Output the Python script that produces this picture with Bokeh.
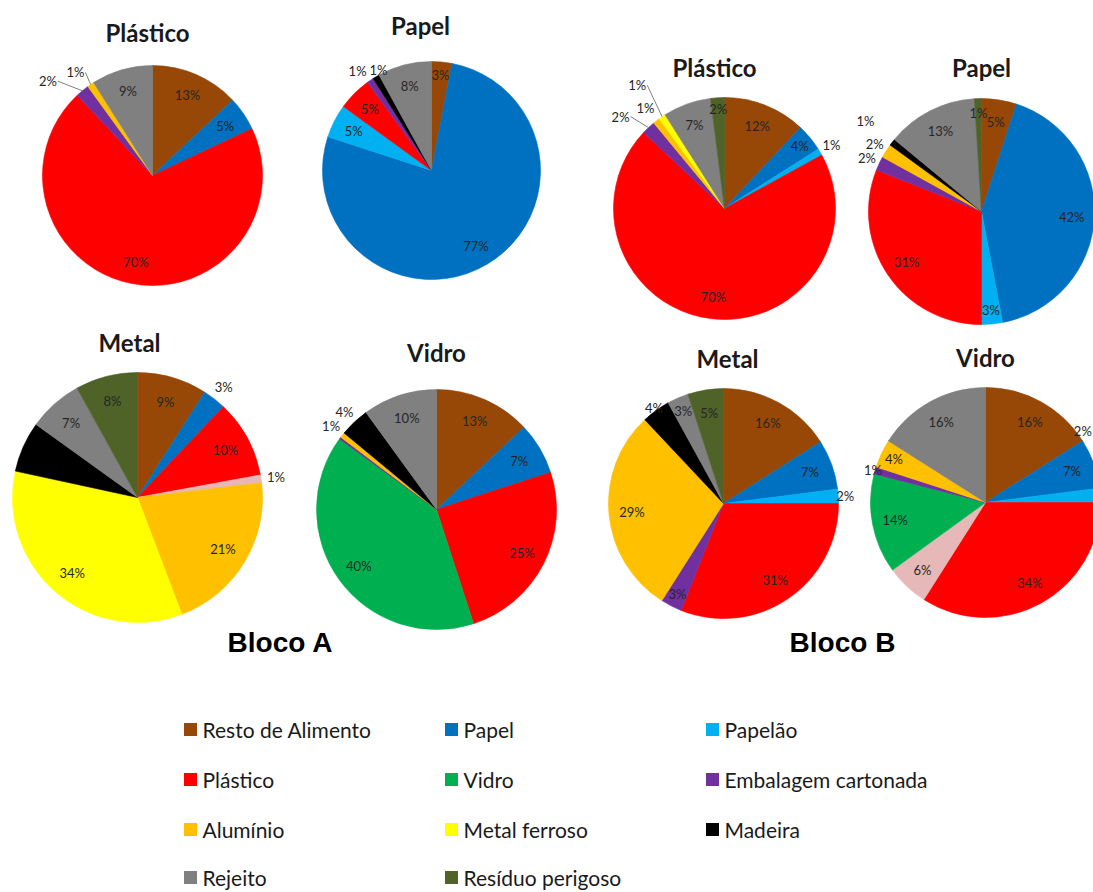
import math
from bokeh.plotting import figure
from bokeh.models import ColumnDataSource, Range1d
from bokeh.core.properties import value
from bokeh.embed import file_html
from bokeh.resources import INLINE

# ---------------- data ----------------
CATEGORIES = ["Resto de Alimento", "Papel", "Papelão", "Plástico", "Outros", "Vidro",
              "Embalagem cartonada", "Alumínio", "Metal ferroso", "Madeira", "Rejeito",
              "Resíduo perigoso"]
COLORS = ["#974806", "#0070C0", "#00B0F0", "#FF0000", "#E6B9B8", "#00B050",
          "#7030A0", "#FFC000", "#FFFF00", "#000000", "#808080", "#4F6228"]
LEGEND_ITEMS = ["Resto de Alimento", "Papel", "Papelão",
                "Plástico", "Vidro", "Embalagem cartonada",
                "Alumínio", "Metal ferroso", "Madeira",
                "Rejeito", "Resíduo perigoso"]

PIE_TITLES = ["Plástico", "Papel", "Metal", "Vidro"]
BLOCK_NAMES = ["Bloco A", "Bloco B"]

# percentages per category (order of CATEGORIES)
A_PLASTICO = [13, 5, 0, 70, 0, 0, 2, 1, 0, 0, 9, 0]
A_PAPEL    = [3, 77, 5, 5, 0, 0, 1, 0, 0, 1, 8, 0]
A_METAL    = [9, 3, 0, 10, 1, 0, 0, 21, 34, 6.5, 7, 8]
A_VIDRO    = [13, 7, 0, 25, 0, 40, 0.3, 0.7, 0, 4, 10, 0]
B_PLASTICO = [12, 4, 1, 70, 0, 0, 2, 1, 1, 0, 7, 2]
B_PAPEL    = [5, 42, 3, 31, 0, 0, 2, 2, 0, 1, 13, 1]
B_METAL    = [16, 7, 2, 31, 0, 0, 3, 29, 0, 4, 3, 5]
B_VIDRO    = [16, 7, 2, 34, 6, 14, 1, 4, 0, 0, 16, 0]

# ---------------- layout ----------------
W, H = 1093, 892

def Y(y):
    return H - y

# key, values, center x, center y, radius, title pos
PIES = [
    ("A0", A_PLASTICO, 152, 175, 110, 147, 32),
    ("A1", A_PAPEL,    431, 170, 109, 420, 25),
    ("A2", A_METAL,    137, 497, 125, 129, 342),
    ("A3", A_VIDRO,    436, 509, 120, 436, 352),
    ("B0", B_PLASTICO, 724, 208, 111, 714, 67),
    ("B1", B_PAPEL,    981, 211, 113, 981, 67),
    ("B2", B_METAL,    723, 503, 115, 727, 358),
    ("B3", B_VIDRO,    985, 502, 115, 985, 357),
]
BLOCK_POS = [(280, 642), (842, 642)]

# label placement overrides: (pie key, category index) -> (radius factor, cw angle deg or None, leader)
# radius factor None -> label not drawn (dark label on the black slice)
LABEL_OVERRIDES = {
    ("A0", 6): (1.28, 312.0, True),
    ("A0", 7): (1.17, 323.2, True),
    ("A1", 6): (1.14, 323.5, False),
    ("A1", 9): (1.04, 332.1, False),
    ("A2", 1): (1.12, None, False),
    ("A2", 9): (None, None, False),
    ("A3", 9): (1.12, None, False),
    ("B0", 6): (1.25, 311.5, True),
    ("B0", 7): (1.15, 321.7, False),
    ("B0", 8): (1.36, 324.7, True),
    ("B0", 11): (0.9, None, False),
    ("B1", 11): (0.87, None, False),
    ("B1", 9): (1.3, None, False),
    ("B2", 2): (1.06, None, False),
    ("B2", 9): (1.03, None, False),
    ("B3", 2): (1.05, 53.7, False),
    ("B3", 6): (1.02, None, False),
}

p = figure(width=W, height=H, output_backend="svg", toolbar_location=None,
           x_range=Range1d(0, W), y_range=Range1d(0, H),
           x_axis_location=None, y_axis_location=None, min_border=0,
           outline_line_color=None, background_fill_color="white",
           border_fill_color="white")
p.grid.visible = False

LABEL_FONT = value("Lato")
TXT = "#262626"

for key, vals, cx, cy, r, tx, ty in PIES:
    total = float(sum(vals))
    cum = 0.0
    xs, ys, sa, ea, cols = [], [], [], [], []
    lx, ly, lt = [], [], []
    seg_x0, seg_y0, seg_x1, seg_y1 = [], [], [], []
    for i, v in enumerate(vals):
        if v <= 0:
            continue
        t0 = 360.0 * cum / total
        cum += v
        t1 = 360.0 * cum / total
        xs.append(cx); ys.append(Y(cy))
        sa.append(math.radians(90 - t1)); ea.append(math.radians(90 - t0))
        cols.append(COLORS[i])
        pct = 100.0 * v / total
        if pct < 0.5:
            continue
        mid = (t0 + t1) / 2.0
        if pct >= 5:
            f = 0.8
        elif pct >= 2.5:
            f = 0.88
        else:
            f = 1.12
        leader = False
        ang = mid
        if (key, i) in LABEL_OVERRIDES:
            f, a2, leader = LABEL_OVERRIDES[(key, i)]
            if f is None:
                continue
            if a2 is not None:
                ang = a2
        px = cx + f * r * math.sin(math.radians(ang))
        py = cy - f * r * math.cos(math.radians(ang))
        lx.append(px); ly.append(Y(py)); lt.append(f"{round(pct)}%")
        if leader:
            ex = cx + 1.0 * r * math.sin(math.radians(mid))
            ey = cy - 1.0 * r * math.cos(math.radians(mid))
            seg_x0.append(px + 10); seg_y0.append(Y(py))
            seg_x1.append(ex); seg_y1.append(Y(ey))
    src = ColumnDataSource(dict(x=xs, y=ys, sa=sa, ea=ea, c=cols))
    p.wedge(x="x", y="y", radius=r, start_angle="sa", end_angle="ea",
            fill_color="c", line_color="c", line_width=0.6, source=src)
    if seg_x0:
        p.segment(x0=seg_x0, y0=seg_y0, x1=seg_x1, y1=seg_y1,
                  line_color="#7f7f7f", line_width=1)
    p.text(x=lx, y=ly, text=lt, text_font=LABEL_FONT, text_font_size="13px",
           text_align="center", text_baseline="middle", text_color=TXT)
    title = PIE_TITLES[int(key[1])]
    p.text(x=[tx], y=[Y(ty)], text=[title], text_font=LABEL_FONT,
           text_font_size="24px", text_font_style="bold",
           text_align="center", text_baseline="middle", text_color="#1a1a1a")

for name, (bx, by) in zip(BLOCK_NAMES, BLOCK_POS):
    p.text(x=[bx], y=[Y(by)], text=[name], text_font=value("Liberation Sans"),
           text_font_size="28px", text_font_style="bold",
           text_align="center", text_baseline="middle", text_color="#000000")

# legend
col_x = [190, 451, 712]
row_y = [729, 779, 829, 877]
sq_x, sq_y, sq_c, tx_x, tx_y, tx_t = [], [], [], [], [], []
for k, name in enumerate(LEGEND_ITEMS):
    rr, cc = divmod(k, 3)
    sq_x.append(col_x[cc]); sq_y.append(Y(row_y[rr]))
    sq_c.append(COLORS[CATEGORIES.index(name)])
    tx_x.append(col_x[cc] + 12); tx_y.append(Y(row_y[rr])); tx_t.append(name)
p.rect(x=sq_x, y=sq_y, width=13, height=13, fill_color=sq_c, line_color=None)
p.text(x=tx_x, y=tx_y, text=tx_t, text_font=LABEL_FONT, text_font_size="21px",
       text_align="left", text_baseline="middle", text_color="#1a1a1a")

open("out.html", "w").write(file_html(p, INLINE))
